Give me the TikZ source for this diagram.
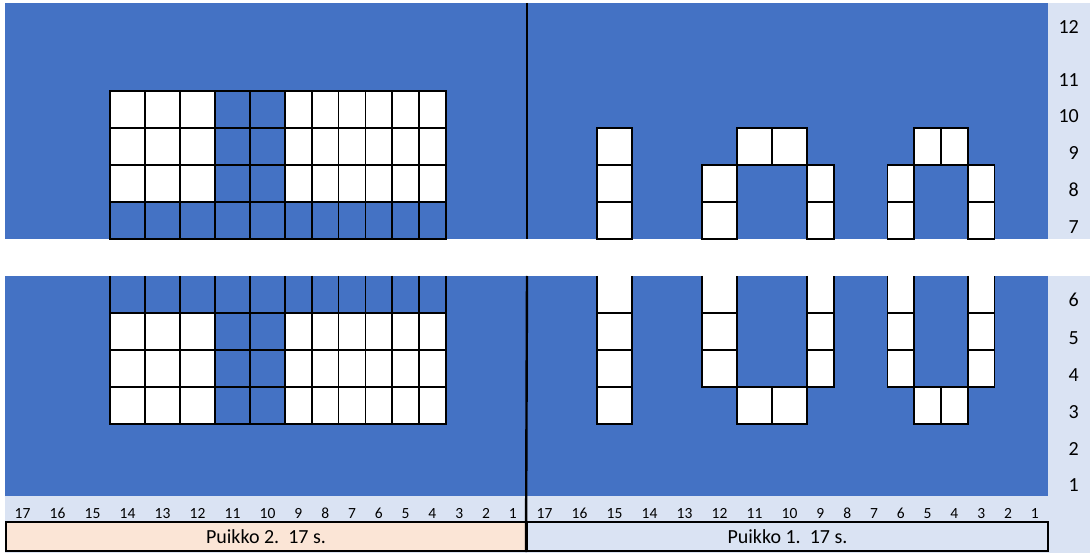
\documentclass[tikz,border=0pt]{standalone}
\usepackage{fontspec}
\setmainfont{Carlito}[Numbers=Lining]
\usepackage{xcolor}
\usepackage{tikz}
\definecolor{chartblue}{HTML}{4472C4}
\definecolor{lavender}{HTML}{DAE3F3}
\definecolor{peach}{HTML}{FBE5D6}

\begin{document}
\begin{tikzpicture}[x=1pt, y=-1pt,
    declare function={colx(\a)=(\a>=10)*(5+(17-\a)*35)+(\a<10)*(285+(9-\a)*26.8);
                      colw(\a)=(\a>=10)*35+(\a<10)*26.8;
                      rowy(\a)=(\a>=7)*(239-(\a-6)*37)+(\a<7)*(276+(6-\a)*37);},
    gridline/.style={draw=black, line width=1.6pt},
    whitecell/.style={gridline, fill=white},
    colnum/.style={inner sep=0pt, anchor=base, font=\fontsize{15.5}{16}\selectfont},
    rownum/.style={inner sep=0pt, anchor=base east, font=\fontsize{20}{22}\selectfont},
    puikko/.style={draw=black, line width=2pt, minimum width=521pt, minimum height=29pt,
                   inner sep=0pt, font=\fontsize{20}{22}\selectfont}]
    \useasboundingbox (0,0) rectangle (1090,553);
    % background and the two blue halves
    \fill[lavender] (5,3) rectangle (1090,239);
    \fill[lavender] (5,276) rectangle (1090,553);
    \fill[chartblue] (5,3) rectangle (1048,239);
    \fill[chartblue] (5,276) rectangle (1048,496);

    % Puikko 2 (left half)
    \foreach \col in {14,...,4} {
        \foreach \row in {10,9,8,7,5,4,3}
            \draw[gridline] ({colx(\col)},{rowy(\row)}) rectangle ++({colw(\col)},37);
        \draw[gridline] ({colx(\col)},276) -- ++(0,37) -- ++({colw(\col)},0) -- ++(0,-37);
    }
    \foreach \col in {14,13,12,9,8,7,6,5,4}
        \foreach \row in {10,9,8,5,4,3}
            \draw[whitecell] ({colx(\col)},{rowy(\row)}) rectangle ++({colw(\col)},37);

    % Puikko 1 (right half)
    \foreach \col/\row in {15/9,15/8,15/7,12/8,12/7,11/9,10/9,9/8,9/7,6/8,6/7,5/9,4/9,3/8,3/7,
                          15/5,15/4,15/3,12/5,12/4,11/3,10/3,9/5,9/4,6/5,6/4,5/3,4/3,3/5,3/4}
        \draw[whitecell] ({colx(\col)+522},{rowy(\row)}) rectangle ++({colw(\col)},37);
    \foreach \col in {15,12,9,6,3}
        \draw[whitecell] ({colx(\col)+522},276) -- ++(0,37) -- ++({colw(\col)},0) -- ++(0,-37);

    % stitch numbers
    \foreach \col in {17,...,1} {
        \node[colnum] (lnum\col) at ({colx(\col)+colw(\col)/2},518) {\col};
        \node[colnum] (rnum\col) at ({colx(\col)+colw(\col)/2+522},518) {\col};
    }
    % row numbers
    \foreach \row/\ypos in {12/33.5,11/86.5,10/122.5,9/159.5,8/196.5,7/233.5,
                           6/306.5,5/344.5,4/381.5,3/418.5,2/455.5,1/491.5}
        \node[rownum] (row\row) at (1079,\ypos) {\row};

    % needle labels
    \node[puikko, fill=peach] (puikko2) at (266,536.5) {Puikko 2.\ \ 17 s.};
    \node[puikko, fill=lavender] (puikko1) at (787.5,536.5) {Puikko 1.\ \ 17 s.};

    % divider between the needles
    \draw[line width=2.4pt] (527,3) -- (527,239);
    \draw[line width=2.4pt] (527,276) -- (puikko1.south west);
\end{tikzpicture}
\end{document}
